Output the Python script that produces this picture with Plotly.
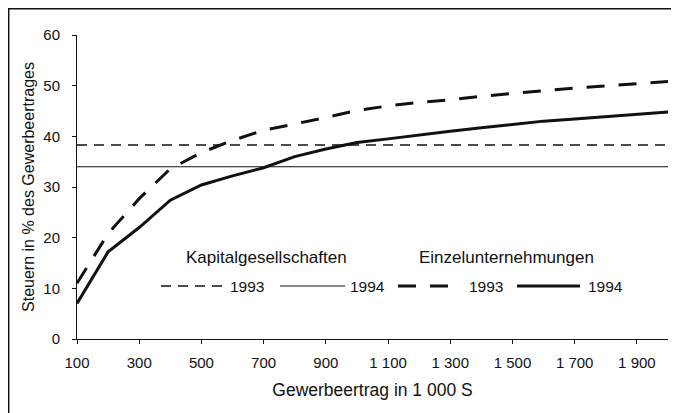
import plotly.graph_objects as go

# ---- data ----
ertrag = [100, 200, 300, 400, 500, 600, 700, 800, 900, 1000,
          1100, 1200, 1300, 1400, 1500, 1600, 1700, 1800, 1900, 2000]
einzel_1993 = [11.0, 20.8, 27.7, 33.6, 36.8, 39.2, 41.2, 42.4, 43.7, 45.1,
               46.0, 46.7, 47.2, 47.9, 48.5, 49.0, 49.5, 50.0, 50.4, 50.8]
einzel_1994 = [7.0, 17.2, 22.0, 27.4, 30.4, 32.2, 33.8, 36.0, 37.5, 38.8,
               39.5, 40.3, 41.0, 41.7, 42.4, 43.0, 43.4, 43.9, 44.4, 44.8]
kap_x = [100, 2000]
kap_1993 = [38.3, 38.3]
kap_1994 = [34.0, 34.0]

x_tickvals = [100, 300, 500, 700, 900, 1100, 1300, 1500, 1700, 1900]
x_ticktext = ["100", "300", "500", "700", "900", "1 100", "1 300", "1 500", "1 700", "1 900"]
y_tickvals = [0, 10, 20, 30, 40, 50, 60]

FONT = "Liberation Sans, Arial, sans-serif"
INK = "#111111"

OFF = 8  # page body margin
W, H = 679 - OFF, 413 - OFF
L, R, T, B = 77 - OFF, 11, 35 - OFF, 74
PW, PH = W - L - R, H - T - B


def px(xs):
    return (xs - OFF - L) / PW


def py(ys):
    return (H - B - (ys - OFF)) / PH


fig = go.Figure()
fig.add_trace(go.Scatter(x=kap_x, y=kap_1993, mode="lines",
                         line=dict(color=INK, width=1.4, dash="10px,7px")))
fig.add_trace(go.Scatter(x=kap_x, y=kap_1994, mode="lines",
                         line=dict(color=INK, width=1.2)))
fig.add_trace(go.Scatter(x=ertrag, y=einzel_1993, mode="lines",
                         line=dict(color=INK, width=3, dash="18px,14px")))
fig.add_trace(go.Scatter(x=ertrag, y=einzel_1994, mode="lines",
                         line=dict(color=INK, width=3)))

shapes = []
annotations = []
# custom legend
ly = py(286)
legend_items = [
    (161, 222, 1.4, "10px,7px", "1993", 247),
    (280, 345, 1.2, "solid", "1994", 367),
    (398, 452, 3, "18px,14px", "1993", 486),
    (517, 580, 3, "solid", "1994", 605),
]
for x0, x1, w, d, lab, tx in legend_items:
    shapes.append(dict(type="line", xref="paper", yref="paper",
                       x0=px(x0), x1=px(x1), y0=ly, y1=ly,
                       line=dict(color=INK, width=w, dash=d)))
    annotations.append(dict(xref="paper", yref="paper", x=px(tx), y=ly,
                            text=lab, showarrow=False,
                            font=dict(family=FONT, size=15.5, color=INK),
                            xanchor="center", yanchor="middle"))
for txt, cx in [("Kapitalgesellschaften", 266), ("Einzelunternehmungen", 506)]:
    annotations.append(dict(xref="paper", yref="paper", x=px(cx), y=py(257),
                            text=txt, showarrow=False,
                            font=dict(family=FONT, size=17, color=INK),
                            xanchor="center", yanchor="middle"))
# outer frame
shapes.append(dict(type="rect", xref="paper", yref="paper",
                   x0=px(8.7), x1=px(677.5), y0=py(8.7), y1=py(420),
                   line=dict(color=INK, width=1.5)))

fig.update_layout(
    width=W, height=H,
    margin=dict(l=L, r=R, t=T, b=B),
    paper_bgcolor="white", plot_bgcolor="white",
    showlegend=False,
    font=dict(family=FONT, size=15, color=INK),
    shapes=shapes, annotations=annotations,
    xaxis=dict(range=[100, 2000], tickvals=x_tickvals, ticktext=x_ticktext,
               showgrid=False, zeroline=False, showline=True, linecolor=INK, linewidth=1,
               ticks="outside", ticklen=4, tickcolor=INK, ticklabelstandoff=6,
               tickfont=dict(family=FONT, size=15, color=INK),
               title=dict(text="Gewerbeertrag in 1 000 S", standoff=13,
                          font=dict(family=FONT, size=17.5, color=INK))),
    yaxis=dict(range=[0, 60], tickvals=y_tickvals,
               showgrid=False, zeroline=False, showline=True, linecolor=INK, linewidth=1,
               ticks="outside", ticklen=4, tickcolor=INK, ticklabelstandoff=9,
               tickfont=dict(family=FONT, size=15, color=INK),
               title=dict(text="Steuern in % des Gewerbeertrages", standoff=4,
                          font=dict(family=FONT, size=16, color=INK))),
)

fig.write_html("out.html")
